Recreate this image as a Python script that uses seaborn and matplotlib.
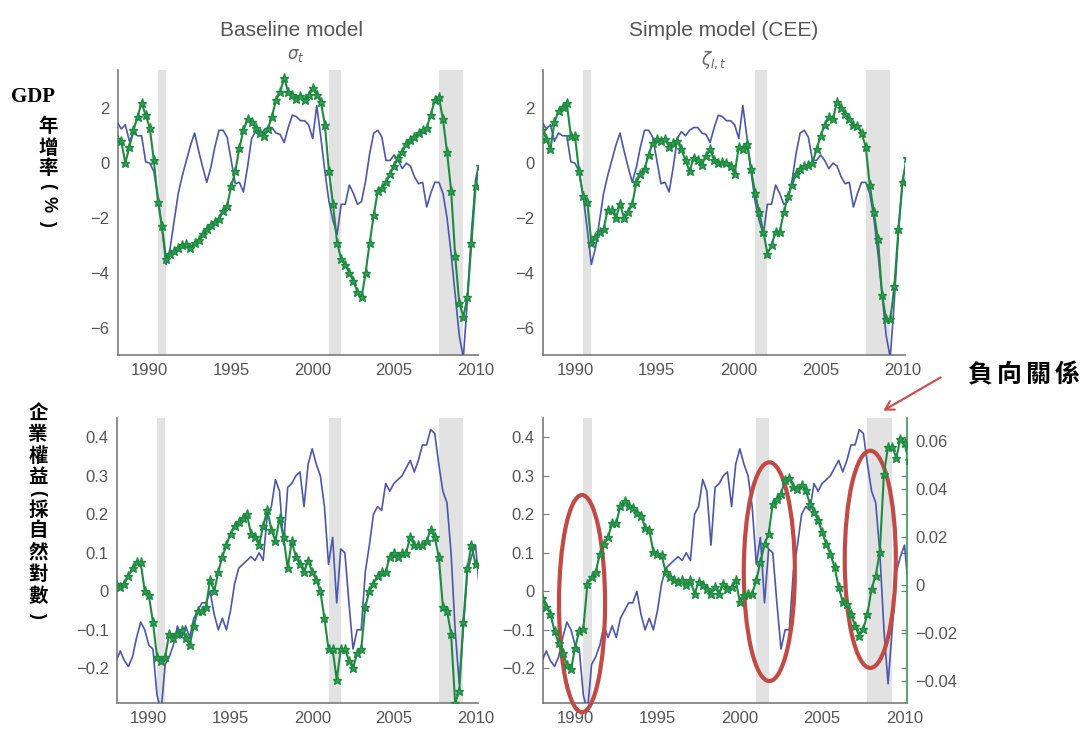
import numpy as np
import matplotlib
matplotlib.use("Agg")
import matplotlib.pyplot as plt
import seaborn as sns
from matplotlib.patches import Ellipse, FancyArrowPatch

# Quarterly dates, 1988Q1 .. 2010Q2
quarters = np.arange(1988.0, 2010.26, 0.25)

# Observed GDP growth (%) - blue line, top row
gdp_data = [
    1.5, 1.25, 1.4, 0.8,
    1.1, 1.0, 1.0, 0.05,
    0.0, -0.3, -1.2, -2.4,
    -3.7, -3.1, -2.1, -1.1,
    -0.45, 0.1, 0.65, 1.1,
    0.45, -0.15, -0.7, -0.15,
    0.6, 1.2, 1.2, 0.95,
    0.1, -0.75, -0.7, -1.05,
    -0.15, 0.9, 1.15, 1.0,
    1.2, 1.3, 1.3, 1.1,
    1.05, 0.75, 1.3, 1.75,
    1.7, 1.55, 1.55, 1.4,
    0.9, 2.1, 0.95, -0.3,
    -1.4, -2.1, -2.6, -1.5,
    -1.5, -0.8, -1.1, -1.5,
    -1.4, -0.65, 0.35, 1.1,
    1.2, 0.95, 0.1, 0.1,
    0.3, 0.1, -0.2, 0.0,
    -0.1, -0.5, -0.75, -0.7,
    -1.6, -1.1, -0.7, -0.7,
    -1.1, -2.0, -3.3, -4.8,
    -6.3, -7.1, -5.0, -2.5,
    -0.6, 0.1,
]

# Baseline model (sigma_t) fit of GDP growth
gdp_baseline = [
    0.9, 0.8, 0.0, 0.6,
    1.2, 1.7, 2.2, 1.75,
    1.3, 0.1, -1.4, -2.3,
    -3.5, -3.3, -3.2, -3.1,
    -3.0, -2.95, -3.1, -2.9,
    -2.8, -2.6, -2.4, -2.25,
    -2.15, -2.05, -1.75, -1.55,
    -0.85, -0.3, 0.55, 1.2,
    1.6, 1.5, 1.3, 1.1,
    1.0, 1.25, 1.7, 2.3,
    2.6, 3.1, 2.6, 2.5,
    2.35, 2.45, 2.3, 2.5,
    2.75, 2.5, 2.25, 1.4,
    -0.3, -1.5, -2.9, -3.5,
    -3.7, -4.0, -4.3, -4.7,
    -4.9, -4.0, -2.9, -1.9,
    -1.0, -0.9, -0.7, -0.4,
    -0.1, 0.2, 0.4, 0.7,
    0.85, 0.95, 1.1, 1.2,
    1.3, 1.75, 2.3, 2.4,
    1.6, 0.4, -1.0, -3.4,
    -5.1, -5.6, -4.9, -2.9,
    -0.85, -0.1,
]

# Simple model (CEE, zeta_I,t) fit of GDP growth
gdp_simple = [
    1.2, 0.9, 0.5, 1.5,
    1.9, 2.05, 2.2, 1.0,
    1.0, -0.3, -1.2, -1.4,
    -2.9, -2.7, -2.5, -2.4,
    -1.7, -1.7, -2.0, -1.5,
    -2.0, -1.8, -1.5, -0.7,
    -0.4, -0.2, 0.3, 0.75,
    0.9, 0.8, 0.9, 0.6,
    0.75, 0.8, 0.5, 0.1,
    -0.3, 0.2, 0.1, -0.05,
    0.25, 0.5, 0.1, 0.0,
    0.05, 0.0, -0.1, -0.4,
    0.6, 0.5, 0.7, -0.2,
    -1.1, -1.8, -2.5, -3.3,
    -3.0, -2.5, -2.5, -1.8,
    -1.2, -0.8, -0.4, -0.2,
    -0.1, -0.05, 0.0, 0.5,
    1.0, 1.4, 1.7, 1.6,
    2.25, 2.0, 1.8, 1.6,
    1.4, 1.35, 1.1, 0.6,
    -0.8, -1.8, -2.75, -4.8,
    -5.7, -5.7, -4.5, -2.4,
    -0.7, 0.2,
]

# Observed equity (log) - blue line, bottom row
equity_data = [
    -0.18, -0.155, -0.18, -0.195,
    -0.17, -0.12, -0.08, -0.1,
    -0.14, -0.15, -0.27, -0.31,
    -0.19, -0.17, -0.14, -0.09,
    -0.12, -0.09, -0.12, -0.07,
    -0.05, -0.03, -0.03, 0.0,
    -0.06, -0.1, -0.07, -0.1,
    -0.05, 0.02, 0.06, 0.07,
    0.08, 0.09, 0.08, 0.1,
    0.08, 0.2, 0.22, 0.29,
    0.26, 0.12, 0.27, 0.28,
    0.3, 0.31, 0.22, 0.33,
    0.37, 0.33, 0.3, 0.22,
    0.07, 0.14, -0.03, 0.11,
    0.1, -0.03, -0.15, -0.1,
    -0.1, 0.05, 0.12, 0.2,
    0.22, 0.21, 0.28, 0.26,
    0.28, 0.29, 0.3, 0.32,
    0.34, 0.31, 0.34, 0.38,
    0.38, 0.42, 0.41, 0.33,
    0.26, 0.23, 0.1, -0.1,
    -0.24, -0.1, 0.05, 0.09,
    0.12, 0.0,
]

# Baseline model fit of equity
equity_baseline = [
    0.02, 0.01, 0.02, 0.04,
    0.06, 0.075, 0.075, 0.0,
    -0.01, -0.08, -0.17, -0.18,
    -0.17, -0.11, -0.12, -0.11,
    -0.1, -0.12, -0.14, -0.09,
    -0.05, -0.05, -0.04, 0.03,
    0.0, 0.05, 0.09, 0.12,
    0.15, 0.17, 0.18, 0.19,
    0.2, 0.15, 0.14, 0.12,
    0.17, 0.21, 0.16, 0.13,
    0.19, 0.14, 0.06, 0.13,
    0.09, 0.07, 0.05, 0.08,
    0.05, 0.03, 0.0, -0.07,
    -0.15, -0.15, -0.23, -0.15,
    -0.15, -0.18, -0.2, -0.16,
    -0.15, -0.04, 0.0, 0.02,
    0.04, 0.05, 0.05, 0.09,
    0.1, 0.09, 0.1, 0.1,
    0.14, 0.12, 0.12, 0.12,
    0.13, 0.16, 0.14, 0.09,
    -0.04, -0.05, -0.11, -0.29,
    -0.26, -0.08, 0.06, 0.12,
    0.07, 0.07,
]

# Simple model fit of equity (right-hand scale)
equity_simple = [
    -0.0055, -0.009, -0.012, -0.019,
    -0.024, -0.028, -0.033, -0.035,
    -0.026, -0.019, -0.018, 0.0007,
    0.0035, 0.0055, 0.013, 0.017,
    0.02, 0.026, 0.026, 0.033,
    0.035, 0.033, 0.032, 0.030,
    0.029, 0.024, 0.023, 0.014,
    0.013, 0.0125, 0.0055, 0.0035,
    0.002, 0.0014, 0.002, 0.0,
    0.002, -0.0035, 0.0014, 0.0,
    -0.0014, -0.0035, -0.0007, -0.0035,
    0.0007, -0.0014, -0.0007, 0.002,
    -0.007, -0.004, -0.0035, -0.0035,
    0.002, 0.0097, 0.017, 0.0215,
    0.034, 0.036, 0.038, 0.044,
    0.0445, 0.041, 0.040, 0.0417,
    0.0396, 0.034, 0.0306, 0.027,
    0.022, 0.017, 0.013, 0.0076,
    -0.0007, -0.007, -0.0076, -0.012,
    -0.017, -0.021, -0.018, -0.012,
    -0.0014, 0.004, 0.014, 0.0465,
    0.0576, 0.0576, 0.053, 0.061,
    0.059, 0.052,
]

# NBER recessions (quarter start, quarter end)
recessions = [(1990.5, 1991.0), (2001.0, 2001.75), (2007.75, 2009.25)]

year_ticks = [1990, 1995, 2000, 2005, 2010]
gdp_ticks = [-6, -4, -2, 0, 2]
equity_ticks = [-0.2, -0.1, 0.0, 0.1, 0.2, 0.3, 0.4]
equity_right_ticks = [-0.04, -0.02, 0.0, 0.02, 0.04, 0.06]

BLUE = "#4c56ad"
GREEN = "#1d8a40"
GREEN_FACE = "#2f9f52"
SPINE = "#7a7a7a"
TICKTXT = "#555555"
LATIN = "Liberation Sans"
CJK = ["Noto Sans CJK TC", "DejaVu Sans"]

sns.set_style("white")
plt.rcParams["font.family"] = [LATIN, "DejaVu Sans"]

fig = plt.figure(figsize=(10.86, 7.29), dpi=100)
W, H = 1086.0, 729.0


def axes_px(left, top, right, bottom):
    return fig.add_axes([left / W, 1 - bottom / H, (right - left) / W, (bottom - top) / H])


ax_tl = axes_px(118, 70, 478, 355)
ax_tr = axes_px(543, 70, 905, 355)
ax_bl = axes_px(117, 418, 478, 703)
ax_br = axes_px(543, 418, 907, 703)


def fmt(v):
    if abs(v) < 1e-12:
        return "0"
    return ("%g" % v).replace("-", "\u2212")


def style_axes(ax, yticks, ylim):
    for lo, hi in recessions:
        ax.axvspan(lo, hi, color="#e2e2e2", lw=0, zorder=0)
    ax.set_xlim(1988.05, 2010.15)
    ax.set_ylim(*ylim)
    ax.set_xticks(year_ticks)
    ax.set_xticklabels([str(t) for t in year_ticks])
    ax.set_yticks(yticks)
    ax.set_yticklabels([fmt(t) for t in yticks])
    for side in ("top", "right"):
        ax.spines[side].set_visible(False)
    for side in ("left", "bottom"):
        ax.spines[side].set_color(SPINE)
        ax.spines[side].set_linewidth(1.2)
    ax.tick_params(axis="both", direction="in", length=4, width=0.8, color=SPINE,
                   labelsize=12, labelcolor=TICKTXT, pad=6)
    ax.set_xlabel("")
    ax.set_ylabel("")
    ax.set_facecolor("white")


def draw_pair(ax, data, fit, fit_ax=None):
    sns.lineplot(x=quarters, y=data, ax=ax, color=BLUE, linewidth=1.2,
                 estimator=None, zorder=3)
    target = fit_ax if fit_ax is not None else ax
    sns.lineplot(x=quarters, y=fit, ax=target, color=GREEN, linewidth=1.5,
                 marker="*", markersize=6.5, markerfacecolor=GREEN_FACE,
                 markeredgecolor=GREEN, markeredgewidth=1.0,
                 estimator=None, zorder=4)


draw_pair(ax_tl, gdp_data, gdp_baseline)
style_axes(ax_tl, gdp_ticks, (-7.0, 3.4))

draw_pair(ax_tr, gdp_data, gdp_simple)
style_axes(ax_tr, gdp_ticks, (-7.0, 3.4))

draw_pair(ax_bl, equity_data, equity_baseline)
style_axes(ax_bl, equity_ticks, (-0.29, 0.45))

# Simple model equity: observed on left scale, model fit on right scale
ax_br2 = ax_br.twinx()
draw_pair(ax_br, equity_data, equity_simple, fit_ax=ax_br2)
style_axes(ax_br, equity_ticks, (-0.29, 0.45))
ax_br.tick_params(axis="y", right=True)
ax_br2.set_xlim(ax_br.get_xlim())
ax_br2.set_ylim(-0.049, 0.0696)
ax_br2.set_yticks(equity_right_ticks)
ax_br2.set_yticklabels([fmt(t) for t in equity_right_ticks])
ax_br2.set_ylabel("")
for side in ("top", "left", "bottom"):
    ax_br2.spines[side].set_visible(False)
ax_br2.spines["right"].set_color("#3d9a55")
ax_br2.spines["right"].set_linewidth(1.2)
ax_br2.tick_params(axis="y", direction="in", length=4, width=0.8, color="#3d9a55",
                   labelsize=12, labelcolor=TICKTXT, pad=6)

# Column titles
fig.text(292 / W, 1 - 30 / H, "Baseline model", ha="center", va="center",
         fontsize=15, color="#555555", family=LATIN)
fig.text(296 / W, 1 - 55 / H, r"$\sigma_t$", ha="center", va="center",
         fontsize=12, color="#666666")
fig.text(724 / W, 1 - 30 / H, "Simple model (CEE)", ha="center", va="center",
         fontsize=15, color="#555555", family=LATIN)
fig.text(714 / W, 1 - 60 / H, r"$\zeta_{I,t}$", ha="center", va="center",
         fontsize=12, color="#666666")

# Row labels, written vertically
fig.text(33 / W, 1 - 97 / H, "GDP", ha="center", va="center", fontsize=15,
         fontweight="bold", family="Liberation Serif", color="black")


def vertical_label(x, items):
    for y, ch in items:
        if ch in "(%)":
            # Latin signs turn sideways in vertical writing
            fig.text(x / W, 1 - y / H, ch, ha="center", va="center", fontsize=13,
                     fontweight="bold", family=LATIN, color="black", rotation=-90)
        else:
            fig.text(x / W, 1 - y / H, ch, ha="center", va="center", fontsize=14,
                     fontweight="bold", family=CJK, color="black")


vertical_label(48, [(127, "年"), (148, "增"), (169, "率"),
                    (186, "("), (204, "%"), (223, ")")])
vertical_label(38, [(413, "企"), (435, "業"), (456, "權"), (477, "益"),
                    (493, "("), (510, "採"), (531, "自"), (553, "然"),
                    (575, "對"), (597, "數"), (615, ")")])

# Callout
for cx, ch in zip([980, 1009, 1038, 1067], "負向關係"):
    fig.text(cx / W, 1 - 375 / H, ch, ha="center", va="center", fontsize=18,
             fontweight="bold", family=CJK, color="black")
arrow = FancyArrowPatch((943 / W, 1 - 376 / H), (881 / W, 1 - 412 / H),
                        transform=fig.transFigure, arrowstyle="->,head_length=6,head_width=3.5",
                        color="#cf4b46", linewidth=1.5)
fig.add_artist(arrow)

# Highlight ellipses around the three recessions
for (ex, ey, ew, eh) in [(1990.42, -0.032, 2.8, 0.564),
                          (2001.79, 0.051, 3.1, 0.568),
                          (2007.92, 0.083, 3.1, 0.564)]:
    ell = Ellipse((ex, ey), ew, eh, transform=ax_br.transData, fill=False,
                  edgecolor="#c24a45", linewidth=3, clip_on=False, zorder=10)
    ax_br.add_artist(ell)

fig.savefig("out.png", dpi=100)
